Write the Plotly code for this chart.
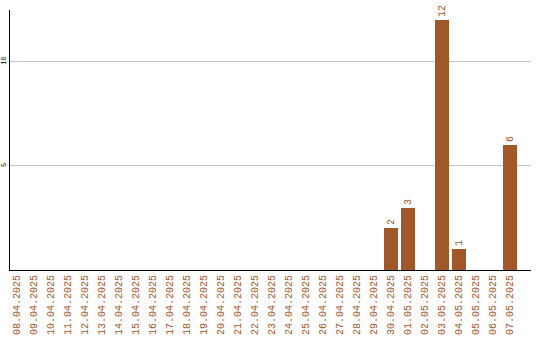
import plotly.graph_objects as go

dates = [
    "08.04.2025", "09.04.2025", "10.04.2025", "11.04.2025", "12.04.2025",
    "13.04.2025", "14.04.2025", "15.04.2025", "16.04.2025", "17.04.2025",
    "18.04.2025", "19.04.2025", "20.04.2025", "21.04.2025", "22.04.2025",
    "23.04.2025", "24.04.2025", "25.04.2025", "26.04.2025", "27.04.2025",
    "28.04.2025", "29.04.2025", "30.04.2025", "01.05.2025", "02.05.2025",
    "03.05.2025", "04.05.2025", "05.05.2025", "06.05.2025", "07.05.2025",
]
counts = [0, 0, 0, 0, 0, 0, 0, 0, 0, 0,
          0, 0, 0, 0, 0, 0, 0, 0, 0, 0,
          0, 0, 2, 3, 0, 12, 1, 0, 0, 6]
y_ticks = [5, 10]

BAR = "#a0572a"
MONO = "Liberation Mono, DejaVu Sans Mono, monospace"

positions = list(range(len(dates)))
labels = [str(v) if v else "" for v in counts]

fig = go.Figure(go.Bar(
    x=positions,
    y=counts,
    width=0.82,
    marker=dict(color=BAR, line=dict(width=0)),
    text=labels,
    textposition="outside",
    textangle=-90,
    textfont=dict(family=MONO, size=10, color=BAR),
    cliponaxis=False,
))

fig.update_layout(
    width=540,
    height=340,
    margin=dict(l=10, r=9, t=10, b=70, autoexpand=False),
    paper_bgcolor="white",
    plot_bgcolor="white",
    showlegend=False,
    bargap=0,
)

fig.update_xaxes(
    range=[-0.412, 30.235],
    automargin=False,
    tickmode="array",
    tickvals=positions,
    ticktext=dates,
    tickangle=-90,
    tickfont=dict(family=MONO, size=10, color=BAR),
    showgrid=False,
    showline=True,
    linecolor="black",
    linewidth=1,
    ticks="",
    zeroline=False,
)

fig.update_yaxes(
    range=[0, 12.48],
    automargin=False,
    tickmode="array",
    tickvals=y_ticks,
    ticktext=[str(v) for v in y_ticks],
    tickangle=-90,
    tickfont=dict(family=MONO, size=7, color="black"),
    showgrid=True,
    gridcolor="#c8c8c8",
    gridwidth=1,
    showline=True,
    linecolor="black",
    linewidth=1,
    ticks="",
    zeroline=False,
)

fig.write_html("out.html")
